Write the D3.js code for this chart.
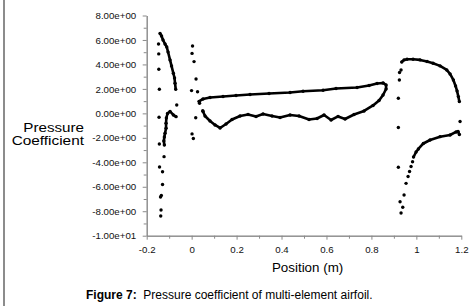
<!DOCTYPE html>
<html><head><meta charset="utf-8">
<script src="https://cdn.jsdelivr.net/npm/d3@7"></script>
<style>
html,body{margin:0;padding:0;background:#fff;}
svg{display:block;font-family:"Liberation Sans",Arial,sans-serif;}
</style></head>
<body>
<svg id="c" width="472" height="306"></svg>
<script>
// ---- data ----
const xTicks = [-0.2, 0, 0.2, 0.4, 0.6, 0.8, 1, 1.2];
const xTickLabels = ["-0.2", "0", "0.2", "0.4", "0.6", "0.8", "1", "1.2"];
const yTicks = [8, 6, 4, 2, 0, -2, -4, -6, -8, -10];
const yTickLabels = ["8.00e+00", "6.00e+00", "4.00e+00", "2.00e+00", "0.00e+00",
  "-2.00e+00", "-4.00e+00", "-6.00e+00", "-8.00e+00", "-1.00e+01"];

// slat
const slatUpper = [[-0.1406,6.53],[-0.134,6.33],[-0.1273,6.00],[-0.1184,5.67],[-0.1108,5.43],
  [-0.105,5.02],[-0.0962,4.37],[-0.0895,3.88],[-0.0814,3.28],[-0.0761,2.89],[-0.0739,2.46],[-0.0708,1.97]];
const slatLower = [[-0.0694,-0.27],[-0.0814,-0.13],[-0.0961,0.155],[-0.1073,-0.008],[-0.1126,-0.376],
  [-0.1139,-0.809],[-0.1139,-1.218],[-0.1184,-1.627],[-0.1215,-1.930],[-0.1237,-2.257],[-0.1215,-2.584]];
const slatPoints = [[-0.1473,5.67],[-0.1464,4.86],[-0.146,3.61],[-0.1437,1.97],[-0.0663,0.69],
  [-0.1451,-0.32],[-0.1437,-2.50],[-0.1228,-3.54],[-0.1429,-4.38],[-0.1295,-4.77],[-0.1295,-5.81],
  [-0.1349,-6.71],[-0.1384,-6.84],[-0.1362,-7.90],[-0.1375,-8.39]];

// main element
const mainUpper = [[0.0329,0.973],[0.0507,1.177],[0.0819,1.300],[0.1397,1.382],[0.1976,1.464],
  [0.2599,1.545],[0.3445,1.627],[0.4379,1.709],[0.4958,1.807],[0.5848,1.889],[0.6426,2.036],
  [0.7361,2.118],[0.7895,2.281],[0.8251,2.445],[0.8518,2.486],[0.8652,2.322]];
const mainLower = [[0.8652,1.995],[0.8518,1.504],[0.834,1.055],[0.8073,0.646],[0.7673,0.196],
  [0.7228,-0.09],[0.6827,-0.458],[0.6516,-0.253],[0.6204,-0.540],[0.5893,-0.131],[0.5581,-0.417],
  [0.5225,-0.499],[0.4780,-0.213],[0.4379,-0.131],[0.3934,-0.335],[0.3578,-0.213],[0.3178,-0.049],
  [0.2866,-0.253],[0.251,-0.09],[0.2154,-0.213],[0.1798,-0.499],[0.1531,-0.867],[0.1264,-1.194],
  [0.1041,-0.948],[0.0819,-0.621],[0.0596,-0.213],[0.0507,0.155]];
const mainPoints = [[0.004,5.51],[0.0018,4.90],[0.0107,4.23],[0.0196,2.81],[-0.0004,1.86],
  [0.0263,1.77],[0.0352,0.83],[0.0494,0.22],[0.0182,-0.36],[0.0018,-1.68],[0.0076,-2.05]];

// flap
const flapUpper = [[0.935,4.20],[0.9453,4.37],[0.9586,4.42],[0.9853,4.42],[1.0165,4.37],[1.0476,4.24],
  [1.0743,4.10],[1.1055,3.88],[1.1353,3.55],[1.15,3.22],[1.1647,2.73],[1.1745,2.24],[1.1811,1.83],
  [1.1869,1.37],[1.1914,0.96]];
const flapLower = [[1.1914,-1.725],[1.1856,-1.48],[1.1767,-1.52],[1.15,-1.766],[1.1055,-1.905],
  [1.061,-2.175],[1.0312,-2.461],[1.0089,-2.911],[0.9987,-3.156],[0.9875,-3.565]];
const flapPoints = [[1.1945,-0.66],[0.9319,3.55],[0.9252,3.34],[0.9244,2.73],[0.9199,1.23],
  [0.9199,-1.15],[0.9199,-4.41],[0.9831,-3.95],[0.9764,-4.34],[0.9697,-4.75],[0.9631,-5.16],
  [0.9542,-5.72],[0.9453,-6.67],[0.9395,-7.68],[0.9275,-7.22],[0.9319,-8.14]];

// ---- drawing ----
const svg = d3.select("#c");
const axisCol = "#8a8a8a";
const x = d3.scaleLinear().domain([-0.2, 1.2]).range([146.7, 461.3]);
const y = d3.scaleLinear().domain([-10, 8]).range([235.7, 15.5]);

// left border
svg.append("line").attr("x1",4).attr("x2",4).attr("y1",0).attr("y2",306)
  .attr("stroke","#8c8c8c").attr("stroke-width",2);

// minor ticks
const yMinor = d3.range(-9, 8, 2);
const xMinor = d3.range(-0.1, 1.2, 0.2);
svg.append("g").attr("transform",`translate(${x(-0.2)},0)`)
  .call(d3.axisLeft(y).tickValues(yMinor).tickSize(3).tickFormat("").tickSizeOuter(0))
  .call(g=>{g.selectAll("line,path").attr("stroke",axisCol);});
svg.append("g").attr("transform",`translate(0,${y(-10)})`)
  .call(d3.axisBottom(x).tickValues(xMinor).tickSize(3).tickFormat("").tickSizeOuter(0))
  .call(g=>{g.selectAll("line,path").attr("stroke",axisCol);});

// major axes
const yAxis = svg.append("g").attr("transform",`translate(${x(-0.2)},0)`)
  .call(d3.axisLeft(y).tickValues(yTicks).tickSize(4).tickSizeOuter(0)
    .tickFormat((d,i)=>yTickLabels[i]));
yAxis.selectAll("line,path").attr("stroke",axisCol);
yAxis.selectAll("text").attr("font-size","9.7px").attr("fill","#111")
  .attr("font-family","'Liberation Sans',Arial,sans-serif").attr("x",-10.5);

const xAxis = svg.append("g").attr("transform",`translate(0,${y(-10)})`)
  .call(d3.axisBottom(x).tickValues(xTicks).tickSize(4).tickSizeOuter(0)
    .tickFormat((d,i)=>xTickLabels[i]));
xAxis.selectAll("line,path").attr("stroke",axisCol);
xAxis.selectAll("text").attr("font-size","9.7px").attr("fill","#111")
  .attr("font-family","'Liberation Sans',Arial,sans-serif").attr("y",10);

// data
const line = d3.line().x(d=>x(d[0])).y(d=>y(d[1])).curve(d3.curveLinear);
const curves = [slatUpper, slatLower, mainUpper.concat(mainLower), flapUpper, flapLower];
svg.append("g").selectAll("path").data(curves).join("path")
  .attr("d", line).attr("fill","none").attr("stroke","#000")
  .attr("stroke-width",2.6).attr("stroke-linejoin","round").attr("stroke-linecap","round");
const allPts = [].concat(slatUpper, slatLower, slatPoints, mainUpper, mainLower, mainPoints,
  flapUpper, flapLower, flapPoints);
svg.append("g").selectAll("circle").data(allPts).join("circle")
  .attr("cx",d=>x(d[0])).attr("cy",d=>y(d[1])).attr("r",1.7).attr("fill","#000");

// axis titles
svg.append("text").attr("x",84).attr("y",131.5).attr("text-anchor","end")
  .attr("font-size","12px").attr("fill","#000")
  .attr("textLength",60.7).attr("lengthAdjust","spacingAndGlyphs").text("Pressure");
svg.append("text").attr("x",84).attr("y",145).attr("text-anchor","end")
  .attr("font-size","12px").attr("fill","#000")
  .attr("textLength",72.3).attr("lengthAdjust","spacingAndGlyphs").text("Coefficient");
svg.append("text").attr("x",307.6).attr("y",271.7).attr("text-anchor","middle")
  .attr("font-size","13.5px").attr("fill","#000")
  .attr("textLength",71.3).attr("lengthAdjust","spacingAndGlyphs").text("Position (m)");

// caption
const cap = svg.append("text").attr("x",86).attr("y",299).attr("font-size","12px").attr("fill","#000");
cap.append("tspan").attr("font-weight","bold").text("Figure 7:");
cap.append("tspan").attr("xml:space","preserve").text("\u00a0 Pressure coefficient of multi-element airfoil.");
</script>
</body></html>
